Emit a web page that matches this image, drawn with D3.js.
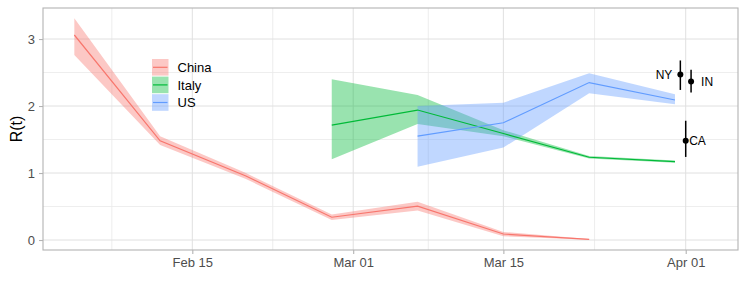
<!DOCTYPE html>
<html>
<head>
<meta charset="utf-8">
<script src="https://cdn.jsdelivr.net/npm/d3@7"></script>
<style>
  html, body { margin: 0; padding: 0; background: #fff; }
  svg { display: block; font-family: "Liberation Sans", Arial, Helvetica, sans-serif; }
</style>
</head>
<body>
<svg id="chart" width="747" height="299"></svg>
<script>
// ---------------- data ----------------
const seriesNames = ["China", "Italy", "US"];
const seriesColors = ["#F8766D", "#00BA38", "#619CFF"];

const chinaDates = ["2020-02-04", "2020-02-12", "2020-02-20", "2020-02-28", "2020-03-07", "2020-03-15", "2020-03-23"];
const chinaR     = [3.06, 1.48, 0.955, 0.34, 0.505, 0.09, 0.01];
const chinaLo    = [2.76, 1.42, 0.91, 0.30, 0.44, 0.055, 0.005];
const chinaHi    = [3.31, 1.55, 1.00, 0.38, 0.57, 0.12, 0.015];

const italyDates = ["2020-02-28", "2020-03-07", "2020-03-15", "2020-03-23", "2020-03-31"];
const italyR     = [1.715, 1.94, 1.59, 1.235, 1.17];
const italyLo    = [1.205, 1.73, 1.55, 1.215, 1.155];
const italyHi    = [2.40, 2.165, 1.64, 1.255, 1.185];

const usDates = ["2020-03-07", "2020-03-15", "2020-03-23", "2020-03-31"];
const usR     = [1.55, 1.75, 2.35, 2.09];
const usLo    = [1.095, 1.38, 2.19, 2.025];
const usHi    = [2.00, 2.05, 2.49, 2.175];

const states     = ["NY", "IN", "CA"];
const stateDates = ["2020-03-31T12:00:00Z", "2020-04-01T12:00:00Z", "2020-04-01T00:00:00Z"];
const stateR     = [2.47, 2.365, 1.48];
const stateLo    = [2.24, 2.20, 1.24];
const stateHi    = [2.68, 2.54, 1.78];

const xTickDates  = ["2020-02-15", "2020-03-01", "2020-03-15", "2020-04-01"];
const xTickLabels = ["Feb 15", "Mar 01", "Mar 15", "Apr 01"];
const xMinorDates = ["2020-02-07T12:00:00Z", "2020-02-22T12:00:00Z", "2020-03-08", "2020-03-23T12:00:00Z"];
const yTicks      = [0, 1, 2, 3];
const yMinor      = [0.5, 1.5, 2.5];
const yTitle      = "R(t)";

// ---------------- layout ----------------
const P = { left: 43, right: 738, top: 8, bottom: 250 };
const parse = s => new Date(s.length === 10 ? s + "T00:00:00Z" : s);

const x = d3.scaleUtc()
  .domain([parse("2020-02-01T01:55:00Z"), parse("2020-04-05T21:00:00Z")])
  .range([P.left, P.right]);
const y = d3.scaleLinear().domain([-0.149, 3.463]).range([P.bottom, P.top]);

const svg = d3.select("#chart");

// grid
const grid = svg.append("g");
grid.selectAll(".xmin").data(xMinorDates).join("line")
  .attr("x1", d => x(parse(d))).attr("x2", d => x(parse(d)))
  .attr("y1", P.top).attr("y2", P.bottom)
  .attr("stroke", "#e8e8e8").attr("stroke-width", 0.8);
grid.selectAll(".ymin").data(yMinor).join("line")
  .attr("y1", d => y(d)).attr("y2", d => y(d))
  .attr("x1", P.left).attr("x2", P.right)
  .attr("stroke", "#e8e8e8").attr("stroke-width", 0.8);
grid.selectAll(".xmaj").data(xTickDates).join("line")
  .attr("x1", d => x(parse(d))).attr("x2", d => x(parse(d)))
  .attr("y1", P.top).attr("y2", P.bottom)
  .attr("stroke", "#e0e0e0").attr("stroke-width", 1);
grid.selectAll(".ymaj").data(yTicks).join("line")
  .attr("y1", d => y(d)).attr("y2", d => y(d))
  .attr("x1", P.left).attr("x2", P.right)
  .attr("stroke", "#e0e0e0").attr("stroke-width", 1);

// clip
svg.append("clipPath").attr("id", "clip").append("rect")
  .attr("x", P.left).attr("y", P.top)
  .attr("width", P.right - P.left).attr("height", P.bottom - P.top);

const plot = svg.append("g").attr("clip-path", "url(#clip)");

function makeSeries(dates, r, lo, hi) {
  return dates.map((d, i) => ({ date: parse(d), r: r[i], lo: lo[i], hi: hi[i] }));
}
const allSeries = [
  makeSeries(chinaDates, chinaR, chinaLo, chinaHi),
  makeSeries(italyDates, italyR, italyLo, italyHi),
  makeSeries(usDates, usR, usLo, usHi)
];

const area = d3.area().x(d => x(d.date)).y0(d => y(d.lo)).y1(d => y(d.hi));
const line = d3.line().x(d => x(d.date)).y(d => y(d.r));

allSeries.forEach((s, i) => {
  plot.append("path").datum(s).attr("d", area)
    .attr("fill", seriesColors[i]).attr("fill-opacity", 0.4);
});
allSeries.forEach((s, i) => {
  plot.append("path").datum(s).attr("d", line)
    .attr("fill", "none").attr("stroke", seriesColors[i]).attr("stroke-width", 1.2);
});

// state points
const st = states.map((s, i) => ({ name: s, date: parse(stateDates[i]), r: stateR[i], lo: stateLo[i], hi: stateHi[i] }));
plot.selectAll(".eb").data(st).join("line")
  .attr("x1", d => x(d.date)).attr("x2", d => x(d.date))
  .attr("y1", d => y(d.lo)).attr("y2", d => y(d.hi))
  .attr("stroke", "#000").attr("stroke-width", 1.5);
plot.selectAll(".pt").data(st).join("circle")
  .attr("cx", d => x(d.date)).attr("cy", d => y(d.r)).attr("r", 3)
  .attr("fill", "#000");
const labelOffset = { NY: -8, IN: 10, CA: 3.5 };
plot.selectAll(".lbl").data(st).join("text")
  .attr("x", d => x(d.date) + labelOffset[d.name])
  .attr("y", d => y(d.r))
  .attr("dy", "0.36em")
  .attr("text-anchor", d => labelOffset[d.name] < 0 ? "end" : "start")
  .attr("font-size", 12).attr("fill", "#000")
  .text(d => d.name);

// panel border
svg.append("rect").attr("x", P.left).attr("y", P.top)
  .attr("width", P.right - P.left).attr("height", P.bottom - P.top)
  .attr("fill", "none").attr("stroke", "#b3b3b3").attr("stroke-width", 1.1);

// axes
const xAxis = d3.axisBottom(x)
  .tickValues(xTickDates.map(parse))
  .tickFormat((d, i) => xTickLabels[i])
  .tickSize(4).tickPadding(4);
const gx = svg.append("g").attr("transform", `translate(0,${P.bottom})`).call(xAxis);
gx.select(".domain").remove();
gx.selectAll(".tick line").attr("stroke", "#b3b3b3").attr("stroke-width", 1.1);
gx.selectAll(".tick text").attr("fill", "#4d4d4d").attr("font-size", 13)
  .attr("font-family", '"Liberation Sans", Arial, sans-serif');

const yAxis = d3.axisLeft(y).tickValues(yTicks).tickFormat(d3.format("d"))
  .tickSize(4).tickPadding(4);
const gy = svg.append("g").attr("transform", `translate(${P.left},0)`).call(yAxis);
gy.select(".domain").remove();
gy.selectAll(".tick line").attr("stroke", "#b3b3b3").attr("stroke-width", 1.1);
gy.selectAll(".tick text").attr("fill", "#4d4d4d").attr("font-size", 13)
  .attr("font-family", '"Liberation Sans", Arial, sans-serif');

svg.append("text")
  .attr("transform", `translate(22,${(P.top + P.bottom) / 2}) rotate(-90)`)
  .attr("text-anchor", "middle").attr("font-size", 16).attr("fill", "#000")
  .text(yTitle);

// legend
const leg = svg.append("g").attr("transform", "translate(151.5,58.5)");
const keyH = 17.6, keyW = 17.5;
seriesNames.forEach((n, i) => {
  const g = leg.append("g").attr("transform", `translate(0,${i * keyH})`);
  g.append("rect").attr("x", 0.5).attr("y", 0.5).attr("width", keyW - 1).attr("height", keyH - 1)
    .attr("fill", seriesColors[i]).attr("fill-opacity", 0.4);
  g.append("line").attr("x1", 1.5).attr("x2", keyW - 1.5).attr("y1", keyH / 2).attr("y2", keyH / 2)
    .attr("stroke", seriesColors[i]).attr("stroke-width", 1.2);
  g.append("text").attr("x", keyW + 8.5).attr("y", keyH / 2).attr("dy", "0.36em")
    .attr("font-size", 13).attr("fill", "#000").text(n);
});
</script>
</body>
</html>
